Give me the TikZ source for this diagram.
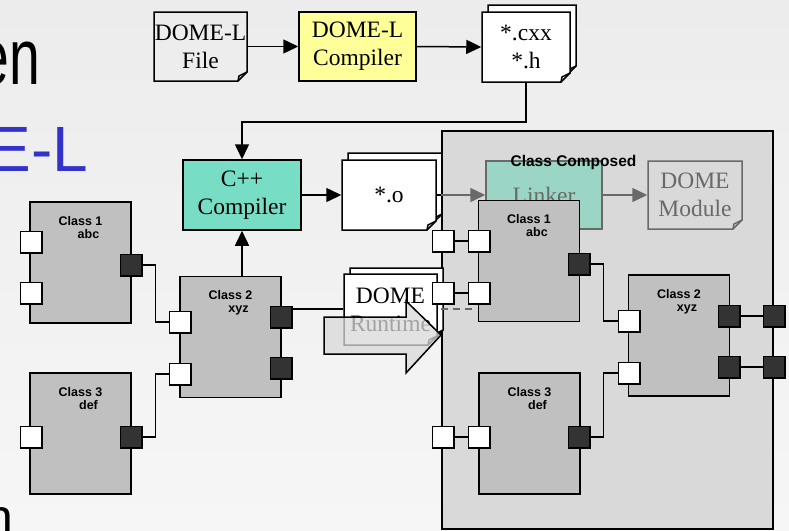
\documentclass[tikz,border=0pt]{standalone}
\usepackage{fontspec}
\setmainfont{Liberation Serif}
\setsansfont{Liberation Sans}
\usetikzlibrary{arrows.meta,calc}
\definecolor{slideblue}{RGB}{51,51,204}
\definecolor{dlyellow}{RGB}{255,255,153}
\definecolor{cppgreen}{RGB}{119,221,196}
\definecolor{linkgreen}{RGB}{155,213,197}
\definecolor{classgray}{RGB}{192,192,192}
\definecolor{compgray}{RGB}{217,217,217}
\definecolor{portdark}{RGB}{51,51,51}
\definecolor{fadegray}{RGB}{105,105,105}
\definecolor{slidetop}{RGB}{236,236,236}
\definecolor{slidebot}{RGB}{246,246,246}

% page with a folded corner: [style]{left}{top}{right}{bottom}
\newcommand{\docpage}[5][]{%
  \draw[#1] (#2,#3) -- (#4,#3) -- (#4,#5-9) -- (#4-9,#5) -- (#2,#5) -- cycle;
  \draw[#1,fill=none] (#4-9,#5) -- (#4-8,#5-5) -- (#4,#5-9);}

\begin{document}
\begin{tikzpicture}[x=1pt,y=-1pt,>={Triangle[length=15pt,width=14pt]},line width=1.5pt,
    doctext/.style={font=\fontsize{23.5}{28}\selectfont,align=center},
    docnode/.style={doctext,inner sep=0pt,minimum width=93pt,minimum height=69pt},
    toolbox/.style={doctext,draw,inner sep=0pt,minimum width=117pt,minimum height=69pt},
    cls/.style={draw,fill=classgray,inner sep=0pt,minimum width=101pt,minimum height=121pt},
    clabel/.style={font=\fontsize{12.5}{13}\selectfont\sffamily\bfseries,anchor=base,inner sep=0pt},
    inport/.style={draw,fill=white,inner sep=0pt,minimum size=21.5pt},
    outport/.style={inport,fill=portdark},
    bigtext/.style={font=\fontsize{79}{90}\selectfont\sffamily,inner sep=0pt}]
    \useasboundingbox (0,0) rectangle (789,530);
    \shade[top color=slidetop,bottom color=slidebot] (0,0) rectangle (789,530);

    % Slide text behind the diagram
    \node[bigtext,anchor=base east,xscale=0.7] (txten) at (41,84) {en};
    \node[bigtext,font=\fontsize{64}{72}\selectfont\sffamily,text=slideblue,anchor=base east] (txtel) at (89,171) {E-L};
    \node[bigtext,font=\fontsize{50}{60}\selectfont\sffamily,anchor=base east] (txtn) at (14,534) {n};

    % DOME-L front end
    \docpage{154}{12}{247}{81}
    \node[docnode] (file) at (200.5,46.5) {DOME-L\\File};
    \node[toolbox,fill=dlyellow] (dlc) at (357.5,46.5) {DOME-L\\Compiler};
    \docpage[fill=white]{488}{5}{576}{75}
    \docpage[fill=white]{482}{12}{570}{82}
    \node[docnode,minimum width=88pt,minimum height=70pt] (cxx) at (526,47) {*.cxx\\*.h};
    \draw[->] (file.east) -- (dlc.west);
    \draw[->] (dlc.east) -- (cxx.west);

    % C++ compile
    \node[toolbox,fill=cppgreen,minimum width=118pt,minimum height=70pt] (cpp) at (242,195) {C++\\Compiler};
    \draw[->] (cxx.south) -- ++(0,39) -| (cpp.north);
    \docpage[fill=white]{348}{153}{442}{223}
    \docpage[fill=white]{342}{160}{436}{230}
    \node[docnode,minimum width=94pt,minimum height=70pt] (obj) at (389,195) {*.o};
    \draw[->] (cpp.east) -- (obj.west);

    % Composed class (linking, faded)
    \node[draw,fill=compgray,inner sep=0pt,minimum width=331pt,minimum height=398pt] (comp) at (607.5,330) {};
    \node[toolbox,fill=linkgreen,draw=fadegray,text=fadegray,minimum width=116pt,minimum height=68pt] (link) at (544,195) {Linker};
    \docpage[draw=fadegray]{648}{161}{742}{229}
    \node[docnode,text=fadegray,minimum width=94pt,minimum height=68pt] (mod) at (695,195) {DOME\\Module};
    \draw (obj.east) -- (obj.east -| comp.west);
    \draw[->,fadegray] (obj.east -| comp.west) -- (link.west);
    \draw[->,fadegray] (link.east) -- (mod.west);
    \node[font=\fontsize{15.5}{18}\selectfont\sffamily\bfseries,anchor=base] (comptitle) at (573.5,166) {Class Composed};

    % Classes
    \foreach \n/\x/\y/\c/\s in {lc1/80.5/262.5/1/abc,lc2/230.5/337/2/xyz,lc3/80.5/433.5/3/def,
                                ic1/529/261/1/abc,ic2/679/335.5/2/xyz,ic3/529.5/433.5/3/def}{
        \node[cls] (\n) at (\x,\y) {};
        \node[clabel] (\n-t) at ([yshift=-24pt]\n.north) {Class \c};
        \node[clabel] (\n-s) at ([xshift=8pt,yshift=-37pt]\n.north) {\s};
    }
    \draw[->] (lc2.north -| cpp.south) -- (cpp.south);

    % DOME runtime
    \docpage[fill=white]{350}{268}{443}{339}
    \docpage[fill=white]{344}{274}{437}{345}
    \node[docnode,minimum height=71pt] (rt) at (390.5,309.5) {DOME\\Runtime};

    % Ports
    \foreach \n/\x/\y in {lc1a/31/242,lc1b/31/293,lc2a/180/322,lc2b/180/374,lc3a/31/437,
                          ic1a/479/241,ic1b/479/293,ic2a/629/321,ic2b/629/373,ic3a/479/437,
                          ca/443/241,cb/443/293,cc/443/437}
        \node[inport] (\n) at (\x,\y) {};
    \foreach \n/\x/\y in {lc1x/131/265,lc2x/281/317,lc2y/281/368,lc3x/131/437,
                          ic1x/579/264,ic2x/729/316,ic2y/729/367,ic3x/579/437,cx/774/316,cy/774/367}
        \node[outport] (\n) at (\x,\y) {};

    % Wires
    \draw (lc1x.east) -- ++(13,0) |- (lc2a.west);
    \draw (lc3x.east) -- ++(13,0) |- (lc2b.west);
    \draw (ic1x.east) -- ++(13,0) |- (ic2a.west);
    \draw (ic3x.east) -- ++(13,0) |- (ic2b.west);
    \draw (ca) -- (ic1a);
    \draw (cb) -- (ic1b);
    \draw (cc) -- (ic3a);
    \draw (ic2x) -- (cx);
    \draw (ic2y) -- (cy);
    \coordinate (rtin) at ([yshift=8pt]lc2x.east);
    \draw (rtin) -- (rtin -| rt.west);
    \draw[fadegray,dash pattern=on 7pt off 5pt] (rtin -| comp.west) -- ++(31,0);

    % Runtime arrow
    \draw[fill=compgray,fill opacity=0.75] (324,317) -- (406,317) -- (406,301) -- (441,335)
        -- (406,373) -- (406,354) -- (324,354) -- cycle;
\end{tikzpicture}
\end{document}
